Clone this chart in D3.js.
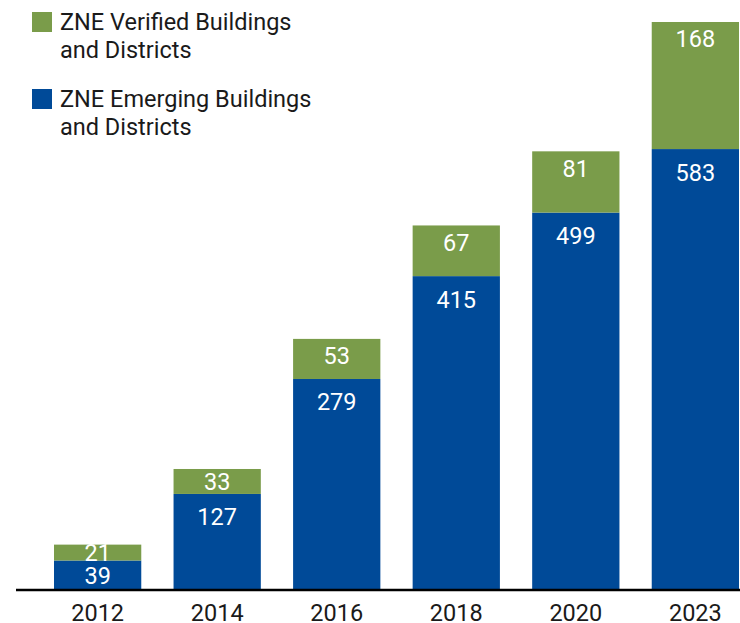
<!DOCTYPE html>
<html>
<head>
<meta charset="utf-8">
<script src="https://cdn.jsdelivr.net/npm/d3@7"></script>
<style>
  body { margin: 0; background: #fff; }
  svg { display: block; font-family: Roboto, "Noto Sans", sans-serif; }
</style>
</head>
<body>
<div id="chart"></div>
<script>
const years = ['2012', '2014', '2016', '2018', '2020', '2023'];
const emerging = [39, 127, 279, 415, 499, 583];
const verified = [21, 33, 53, 67, 81, 168];
const seriesNames = ['ZNE Verified Buildings|and Districts', 'ZNE Emerging Buildings|and Districts'];

const width = 740;
const height = 623;
const baseY = 590;
const fontSize = '23.5px';
const colors = { verified: '#7a9c4a', emerging: '#004a98' };

const svg = d3.select('#chart')
  .append('svg')
  .attr('width', width)
  .attr('height', height);

const x = d3.scaleBand()
  .domain(years)
  .range([54, 739])
  .paddingInner(0.27)
  .paddingOuter(0);

const y = d3.scaleLinear()
  .domain([0, d3.max(years, (d, i) => emerging[i] + verified[i])])
  .range([baseY, 22]);

const rows = years.map((yr, i) => ({ year: yr, emerging: emerging[i], verified: verified[i] }));
const stacked = d3.stack().keys(['emerging', 'verified'])(rows);

const layers = svg.selectAll('g.layer')
  .data(stacked)
  .join('g')
  .attr('class', 'layer')
  .attr('fill', d => colors[d.key]);

layers.selectAll('rect')
  .data(d => d)
  .join('rect')
  .attr('x', d => x(d.data.year))
  .attr('y', d => y(d[1]))
  .attr('width', x.bandwidth())
  .attr('height', d => y(d[0]) - y(d[1]));

// value labels inside the segments, near the top (centred if segment is small)
stacked.forEach(layer => {
  const off = layer.key === 'verified' ? 17 : 23;
  svg.append('g')
    .selectAll('text')
    .data(layer)
    .join('text')
    .attr('x', d => x(d.data.year) + x.bandwidth() / 2)
    .attr('y', d => {
      const top = y(d[1]);
      const h = y(d[0]) - top;
      return top + Math.min(h / 2, off);
    })
    .attr('dy', '0.36em')
    .attr('text-anchor', 'middle')
    .attr('fill', '#fff')
    .attr('font-size', fontSize)
    .text(d => d.data[layer.key]);
});

// x axis
const axis = svg.append('g')
  .attr('transform', `translate(0,${baseY})`)
  .call(d3.axisBottom(x).tickSize(0).tickPadding(14));
axis.select('.domain').remove();
axis.selectAll('text')
  .attr('font-size', fontSize)
  .attr('font-family', 'Roboto, sans-serif')
  .attr('fill', '#1a1a1a');

svg.append('line')
  .attr('x1', 16)
  .attr('x2', width)
  .attr('y1', baseY)
  .attr('y2', baseY)
  .attr('stroke', '#000')
  .attr('stroke-width', 2.6);

// legend
const legend = svg.append('g');
const legendColors = [colors.verified, colors.emerging];
seriesNames.forEach((name, i) => {
  const g = legend.append('g')
    .attr('transform', `translate(32,${12 + i * 77})`);
  g.append('rect')
    .attr('width', 20)
    .attr('height', 20)
    .attr('fill', legendColors[i]);
  name.split('|').forEach((line, j) => {
    g.append('text')
      .attr('x', 28)
      .attr('y', 18 + j * 28)
      .attr('font-size', fontSize)
      .attr('fill', '#1a1a1a')
      .text(line);
  });
});
</script>
</body>
</html>
